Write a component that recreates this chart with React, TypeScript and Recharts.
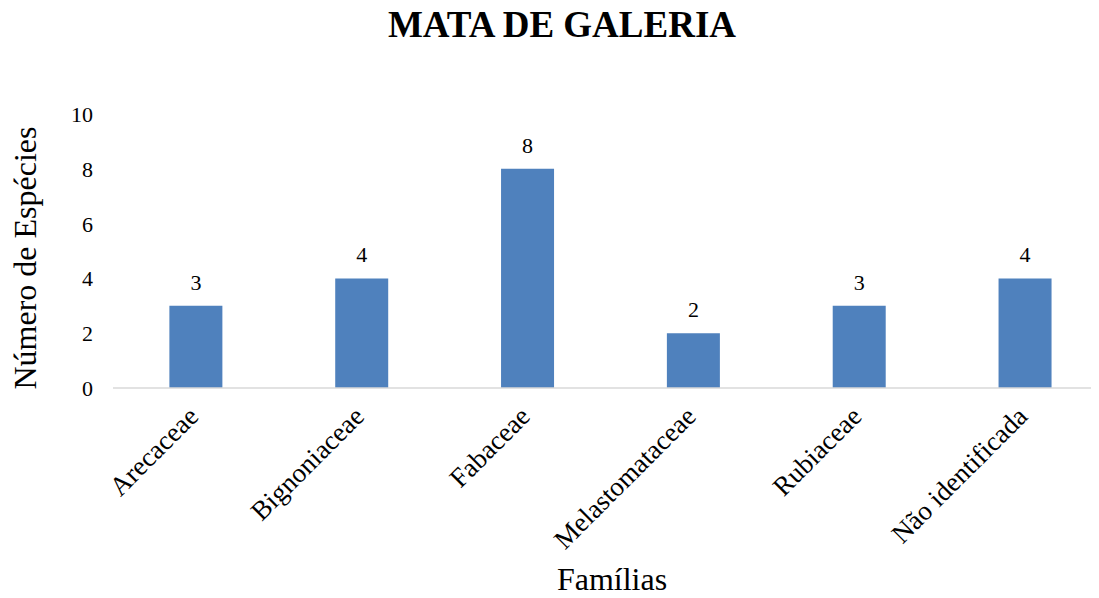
import React from "react";
import { BarChart, Bar, XAxis, YAxis, LabelList } from "recharts";

const categories = ["Arecaceae", "Bignoniaceae", "Fabaceae", "Melastomataceae", "Rubiaceae", "Não identificada"];
const especies = [3, 4, 8, 2, 3, 4];
const yTicks = [0, 2, 4, 6, 8, 10];

const data = categories.map((c, i) => ({ familia: c, valor: especies[i] }));

const FONT = "'Liberation Serif', 'Times New Roman', serif";

const XTick = (props: any) => {
  const { x, payload } = props;
  const ax = x + 4;
  const ay = 410;
  return (
    <text
      x={ax}
      y={ay}
      textAnchor="end"
      style={{ fontFamily: FONT }}
      fontSize={27}
      fill="#000"
      transform={`rotate(-45, ${ax}, ${ay})`}
    >
      {payload.value}
    </text>
  );
};

const YTick = (props: any) => {
  const { x, y, payload } = props;
  return (
    <text x={x} y={y} dy={8} textAnchor="end" style={{ fontFamily: FONT }} fontSize={22} fill="#000">
      {payload.value}
    </text>
  );
};

const ValueLabel = (props: any) => {
  const { x, y, width, value } = props;
  return (
    <text x={x + width / 2} y={y - 16} textAnchor="middle" style={{ fontFamily: FONT }} fontSize={22} fill="#000">
      {value}
    </text>
  );
};

export default function App() {
  return (
    <BarChart
      width={1091}
      height={590}
      data={data}
      margin={{ top: 106, right: 0, bottom: 0, left: 0 }}
      barCategoryGap="34%"
      style={{ fontFamily: FONT }}
    >
      <text x={554} y={29} textAnchor="middle" style={{ fontFamily: FONT }} fontSize={37} fontWeight="bold" fill="#000">
        MATA DE GALERIA
      </text>
      <text
        x={28}
        y={250}
        textAnchor="middle"
        style={{ fontFamily: FONT }}
        fontSize={32}
        fill="#000"
        transform="rotate(-90, 28, 250)"
      >
        Número de Espécies
      </text>
      <text x={604} y={582} textAnchor="middle" style={{ fontFamily: FONT }} fontSize={32} fill="#000">
        Famílias
      </text>
      <XAxis
        dataKey="familia"
        height={210}
        interval={0}
        tickLine={false}
        axisLine={{ stroke: "#d9d9d9", strokeWidth: 1.5 }}
        tick={<XTick />}
        padding={{ left: 0, right: -9 }}
      />
      <YAxis
        width={105}
        domain={[0, 10]}
        ticks={yTicks}
        axisLine={false}
        tickLine={false}
        tickMargin={14}
        tick={<YTick />}
      />
      <Bar dataKey="valor" fill="#4F81BD" isAnimationActive={false}>
        <LabelList dataKey="valor" content={<ValueLabel />} />
      </Bar>
    </BarChart>
  );
}
